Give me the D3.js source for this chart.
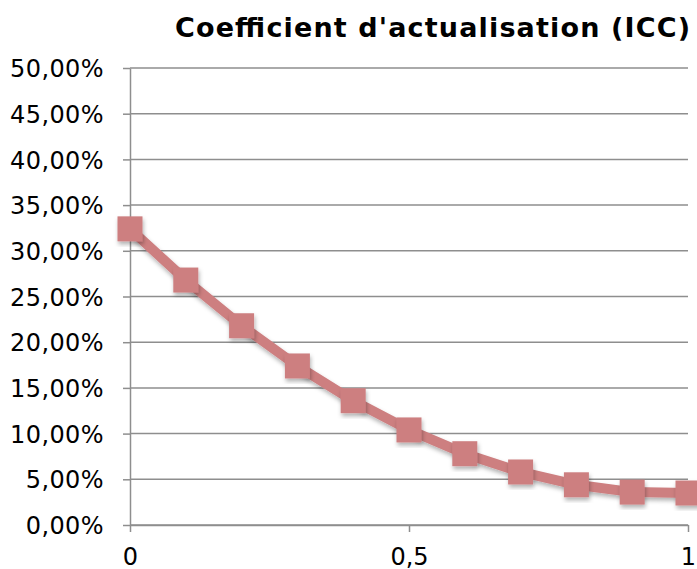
<!DOCTYPE html>
<html>
<head>
<meta charset="utf-8">
<script src="https://cdn.jsdelivr.net/npm/d3@7"></script>
<style>
  body { margin: 0; background: #fff; }
  .grid line { stroke: #8e8e8e; stroke-width: 1.5; }
  .axis path, .axis line { stroke: #8e8e8e; stroke-width: 1.5; }
  .axis text { font-family: "DejaVu Sans", Verdana, sans-serif; font-size: 24px; fill: #000; }
</style>
</head>
<body>
<div id="vis"></div>
<script>
const FRAME_WIDTH = 697;
const FRAME_HEIGHT = 569;
const MARGINS = {left: 130, right: 9, top: 68, bottom: 44};

// Data
const xValues = [0, 0.1, 0.2, 0.3, 0.4, 0.5, 0.6, 0.7, 0.8, 0.9, 1];
const iccValues = [0.324, 0.268, 0.218, 0.174, 0.136, 0.104, 0.078, 0.058, 0.044, 0.036, 0.035];
const yTicks = [0, 0.05, 0.10, 0.15, 0.20, 0.25, 0.30, 0.35, 0.40, 0.45, 0.50];
const xTicks = [0, 0.5, 1];
const title = "Coefficient d'actualisation (ICC)";

const data = xValues.map((x, i) => ({x: x, y: iccValues[i]}));

const VIS_WIDTH = FRAME_WIDTH - MARGINS.left - MARGINS.right;
const VIS_HEIGHT = FRAME_HEIGHT - MARGINS.top - MARGINS.bottom;

const FRAME = d3.select('#vis')
  .append('svg')
    .attr('width', FRAME_WIDTH)
    .attr('height', FRAME_HEIGHT);

const X_SCALE = d3.scaleLinear().domain([0, 1]).range([MARGINS.left, MARGINS.left + VIS_WIDTH]);
const Y_SCALE = d3.scaleLinear().domain([0, 0.5]).range([MARGINS.top + VIS_HEIGHT, MARGINS.top]);

const fmtPct = (d) => d3.format('.2f')(d * 100).replace('.', ',') + '%';
const fmtX = (d) => String(d).replace('.', ',');

// horizontal gridlines
FRAME.append('g')
    .attr('class', 'grid')
  .selectAll('line')
  .data(yTicks)
  .enter()
  .append('line')
    .attr('x1', MARGINS.left)
    .attr('x2', MARGINS.left + VIS_WIDTH)
    .attr('y1', (d) => Y_SCALE(d))
    .attr('y2', (d) => Y_SCALE(d));

// y axis
const yAxis = FRAME.append('g')
    .attr('class', 'axis')
    .attr('transform', 'translate(' + MARGINS.left + ',0)')
    .call(d3.axisLeft(Y_SCALE).tickValues(yTicks).tickFormat(fmtPct).tickSize(7).tickSizeOuter(0).tickPadding(19));
yAxis.selectAll('text').attr('dy', '0.36em').attr('letter-spacing', '0.4px');

// x axis
const xAxis = FRAME.append('g')
    .attr('class', 'axis')
    .attr('transform', 'translate(0,' + (MARGINS.top + VIS_HEIGHT) + ')')
    .call(d3.axisBottom(X_SCALE).tickValues(xTicks).tickFormat(fmtX).tickSize(7).tickSizeOuter(0).tickPadding(16));

// shadow filter
const defs = FRAME.append('defs');
const filter = defs.append('filter').attr('id', 'shadow').attr('x', '-20%').attr('y', '-20%').attr('width', '140%').attr('height', '140%');
filter.append('feDropShadow').attr('dx', 1).attr('dy', 3).attr('stdDeviation', 2).attr('flood-color', '#000').attr('flood-opacity', 0.3);

const COLOR = '#cd7f80';

// line
const line = d3.line().x((d) => X_SCALE(d.x)).y((d) => Y_SCALE(d.y));
FRAME.append('path')
    .datum(data)
    .attr('d', line)
    .attr('fill', 'none')
    .attr('stroke', COLOR)
    .attr('stroke-width', 10)
    .attr('stroke-linejoin', 'round')
    .attr('filter', 'url(#shadow)');

// square markers
const MARK = 25;
FRAME.selectAll('.point')
  .data(data)
  .enter()
  .append('rect')
    .attr('class', 'point')
    .attr('x', (d) => X_SCALE(d.x) - MARK / 2)
    .attr('y', (d) => Y_SCALE(d.y) - MARK / 2)
    .attr('width', MARK)
    .attr('height', MARK)
    .attr('fill', COLOR)
    .attr('filter', 'url(#shadow)');

// title
FRAME.append('text')
    .attr('x', 175)
    .attr('y', 37)
    .attr('font-family', '"DejaVu Sans", Verdana, sans-serif')
    .attr('font-weight', 'bold')
    .attr('font-size', '27px')
    .attr('textLength', 515)
    .attr('lengthAdjust', 'spacing')
    .text(title);
</script>
</body>
</html>
